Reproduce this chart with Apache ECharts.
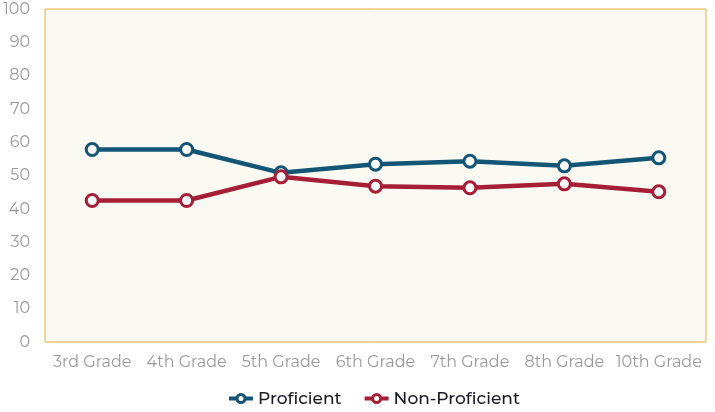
<!DOCTYPE html>
<html><head><meta charset="utf-8">
<script src="https://cdn.jsdelivr.net/npm/echarts@6/dist/echarts.min.js"></script>
<style>html,body{margin:0;padding:0;background:#fff}#c{width:715px;height:412px}</style>
</head><body><div id="c"></div>
<script>
const categories = ["3rd Grade","4th Grade","5th Grade","6th Grade","7th Grade","8th Grade","10th Grade"];
const proficient = [57.8,57.8,50.8,53.4,54.3,52.9,55.3];
const nonProficient = [42.5,42.5,49.6,46.8,46.3,47.5,45.1];
const yTicks = {min:0,max:100,interval:10};
const font = "Montserrat, Inter, 'Noto Sans', sans-serif";
const chart = echarts.init(document.getElementById('c'));
function mk(name, data, color){
  return {name, type:'line', data, symbol:'circle', symbolSize:12,
    lineStyle:{width:4.5,color}, itemStyle:{color:'#fff',borderColor:color,borderWidth:3},
    emphasis:{disabled:true}, z: 2};
}
chart.setOption({
  animation:false,
  grid:{left:45,top:9,right:9,bottom:70,show:true,backgroundColor:'#FBFAF2',borderColor:'#E8AC3C',borderWidth:1},
  legend:{top:385,left:222,itemWidth:24,itemHeight:10,itemGap:21,
    textStyle:{fontFamily:font,fontSize:17,color:'#1a1a24',fontWeight:500},
    lineStyle:{width:4},
    itemStyle:{borderWidth:3},
    data:[{name:'Proficient'},{name:'Non-Proficient'}]},
  xAxis:{type:'category',data:categories,boundaryGap:true,
    axisLine:{show:false},axisTick:{show:false},
    axisLabel:{interval:0,fontFamily:font,fontSize:16,color:'#9a9a9a',margin:12}},
  yAxis:{type:'value',min:yTicks.min,max:yTicks.max,interval:yTicks.interval,
    axisLine:{show:false},axisTick:{show:false},splitLine:{show:false},
    axisLabel:{fontFamily:font,fontSize:16,color:'#9a9a9a',margin:15}},
  series:[mk('Proficient',proficient,'#135574'),mk('Non-Proficient',nonProficient,'#A51E36')]
});
</script></body></html>
